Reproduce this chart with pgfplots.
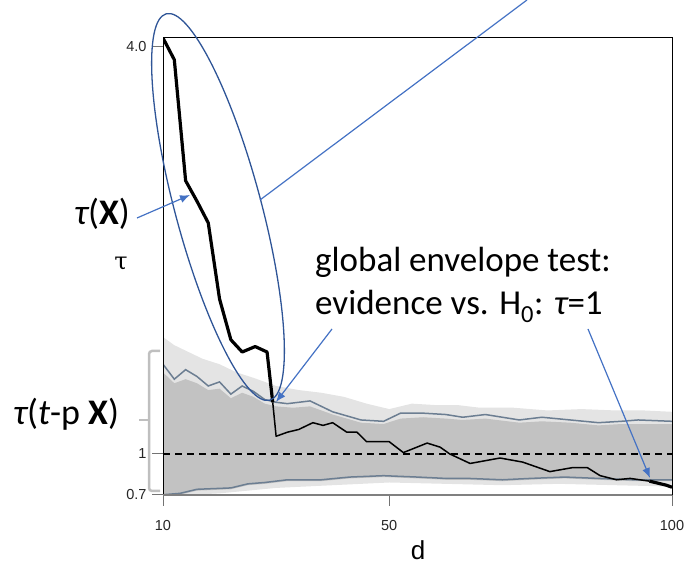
\documentclass[border=0pt]{standalone}
\usepackage{pgfplots}
\pgfplotsset{compat=1.18}
\usetikzlibrary{arrows.meta}
\usepackage{fontspec}
\setmainfont{Liberation Sans}
\newfontfamily\calibri{Carlito}
\newfontfamily\serifg{DejaVu Serif}
\definecolor{envblue}{RGB}{108,126,146}
\definecolor{arrowblue}{RGB}{68,114,196}
\definecolor{ellblue}{RGB}{47,85,151}
\definecolor{densegray}{RGB}{194,194,194}
\definecolor{lightband}{RGB}{228,228,228}
\definecolor{brgray}{RGB}{191,191,191}
\begin{document}
\begin{tikzpicture}[x=1pt,y=1pt]
\useasboundingbox (0,0) rectangle (686,564);
\begin{axis}[
  at={(163pt,69pt)}, anchor=south west, scale only axis,
  width=509pt, height=457pt,
  xmin=10, xmax=100, ymin=0.698, ymax=4.06,
  xtick={10,50,100}, xticklabels={10,50,100},
  ytick={0.7,1,4}, yticklabels={0.7,1,4.0},
  xtick pos=left, ytick pos=left,
  tick align=outside, major tick length=11pt,
  tick style={color=black!55, line width=1pt},
  /pgf/number format/assume math mode=true,
  x tick label style={font=\fontsize{14.5}{14.5}\selectfont, text=black!85, yshift=-11pt},
  y tick label style={font=\fontsize{14.5}{14.5}\selectfont, text=black!85, xshift=-2pt},
  axis line style={line width=1pt},
  axis on top,
  clip=true,
]
% light band of simulated curves
\addplot[fill=lightband, draw=none] coordinates {
(10,1.86) (12,1.80) (14,1.76) (17,1.70) (20,1.66) (23,1.60) (26,1.56) (30,1.50) (34,1.47) (38,1.45) (42,1.42) (46,1.37) (50,1.33) (54,1.37) (58,1.36) (62,1.36) (66,1.34) (72,1.34) (78,1.32) (84,1.33) (90,1.32) (95,1.32) (100,1.31)
(100,0.76) (90,0.77) (80,0.78) (70,0.77) (60,0.78) (50,0.79) (40,0.77) (30,0.75) (20,0.71) (14,0.698) (10,0.698)};
% dense band
\addplot[fill=densegray, draw=none] coordinates {
(10,1.60) (12,1.52) (14,1.55) (16,1.52) (18,1.47) (20,1.48) (22,1.41) (24,1.45) (26,1.42) (28,1.37) (30,1.35) (33,1.34) (36,1.35) (40,1.29) (45,1.23) (49,1.22) (52,1.26) (56,1.27) (60,1.26) (63,1.25) (67,1.26) (73,1.23) (77,1.24) (82,1.23) (87,1.21) (91,1.22) (94,1.22) (100,1.22)
(100,0.80) (93,0.80) (87,0.81) (81,0.82) (75,0.81) (70,0.80) (64,0.81) (60,0.81) (55,0.82) (49,0.83) (43,0.82) (38,0.80) (32,0.80) (28,0.78) (25,0.77) (22,0.74) (16,0.73) (13,0.70) (10,0.698)};
% dashed reference line
\addplot[black, dashed, line width=1.4pt, dash pattern=on 7pt off 5pt] coordinates {(10,1) (100,1)};
% upper envelope
\addplot[envblue, line width=1.5pt] coordinates {
(10,1.66) (12,1.55) (14,1.62) (16,1.57) (18,1.50) (20,1.53) (22,1.44) (24,1.50) (26,1.46) (28,1.40) (30,1.38) (32,1.37) (36,1.39) (40,1.31) (45,1.25) (49,1.24) (52,1.30) (56,1.30) (60,1.29) (63,1.27) (67,1.29) (73,1.25) (77,1.27) (82,1.25) (87,1.23) (91,1.24) (94,1.25) (100,1.24)};
% lower envelope
\addplot[envblue, line width=1.5pt] coordinates {
(10,0.70) (13,0.71) (16,0.74) (22,0.75) (25,0.78) (28,0.79) (32,0.81) (38,0.81) (43,0.83) (49,0.84) (55,0.83) (60,0.82) (64,0.82) (70,0.81) (75,0.82) (81,0.83) (87,0.82) (93,0.81) (100,0.81)};
% observed curve, thick part outside envelope
\addplot[black, line width=3.2pt, line join=round] coordinates {
(10,4.06) (12,3.90) (14,3.01) (16,2.86) (18,2.70) (20,2.14) (22,1.84) (24,1.75) (26.3,1.79) (28.4,1.75) (29.4,1.38)};
% observed curve, thin part
\addplot[black, line width=1.5pt, line join=round] coordinates {
(29.4,1.38) (30,1.13) (32,1.16) (34,1.18) (36.5,1.23) (38.3,1.21) (40,1.23) (42.5,1.16) (44.3,1.16) (46,1.09) (50,1.09) (52.5,1.01) (56.7,1.08) (59,1.05) (60.7,1.0) (64.3,0.93) (69.6,0.97) (73.6,0.94) (78.4,0.87) (82.5,0.90) (85,0.90) (87.3,0.84) (90.2,0.81) (92.6,0.82) (96,0.80)};
\addplot[black, line width=3.2pt, line join=round] coordinates {
(96,0.80) (99,0.77) (100,0.755)};
\end{axis}
% bottom axis line in gray
\draw[black!50, line width=1.2pt] (163,69) -- (672,69);
% axis labels
\node[font=\fontsize{26}{26}\selectfont] at (418,14) {d};
\node[font=\serifg\fontsize{24}{24}\selectfont] at (121,300) {τ};
% bracket
\draw[brgray, line width=2.5pt, rounded corners=3pt] (160,213) -- (149,213) -- (149,73) -- (160,73);
\draw[brgray, line width=2.5pt] (149,144) -- (139,144);
% annotations
\node[anchor=base west, inner sep=0pt, font=\calibri\fontsize{36}{36}\selectfont] at (74,339) {\itshape τ\upshape(\textbf{X})};
\node[anchor=base west, inner sep=0pt, font=\calibri\fontsize{36}{36}\selectfont] at (13,139) {\itshape τ\upshape(\itshape t\upshape-p \textbf{X})};
\node[anchor=base west, inner sep=0pt, font=\calibri\fontsize{35}{35}\selectfont] at (315,292) {global envelope test:};
\node[anchor=base west, inner sep=0pt, font=\calibri\fontsize{35}{35}\selectfont] at (315,249) {evidence vs. H\textsubscript{0}: \itshape τ\upshape=1};
% ellipse
\begin{scope}[rotate around={-75:(218,357)}]
\draw[ellblue, line width=1.3pt] (218,357) ellipse (200 and 43);
\end{scope}
% lines and arrows
\draw[arrowblue, line width=1.2pt] (260,364) -- (527,564);
\draw[arrowblue, line width=1.2pt, -{Latex[length=10pt,width=8pt]}] (137,346) -- (190,369);
\draw[arrowblue, line width=1.2pt, -{Latex[length=10pt,width=8pt]}] (332,235) -- (276,162);
\draw[arrowblue, line width=1.2pt, -{Latex[length=10pt,width=8pt]}] (588,235) -- (650,86);
\end{tikzpicture}
\end{document}
